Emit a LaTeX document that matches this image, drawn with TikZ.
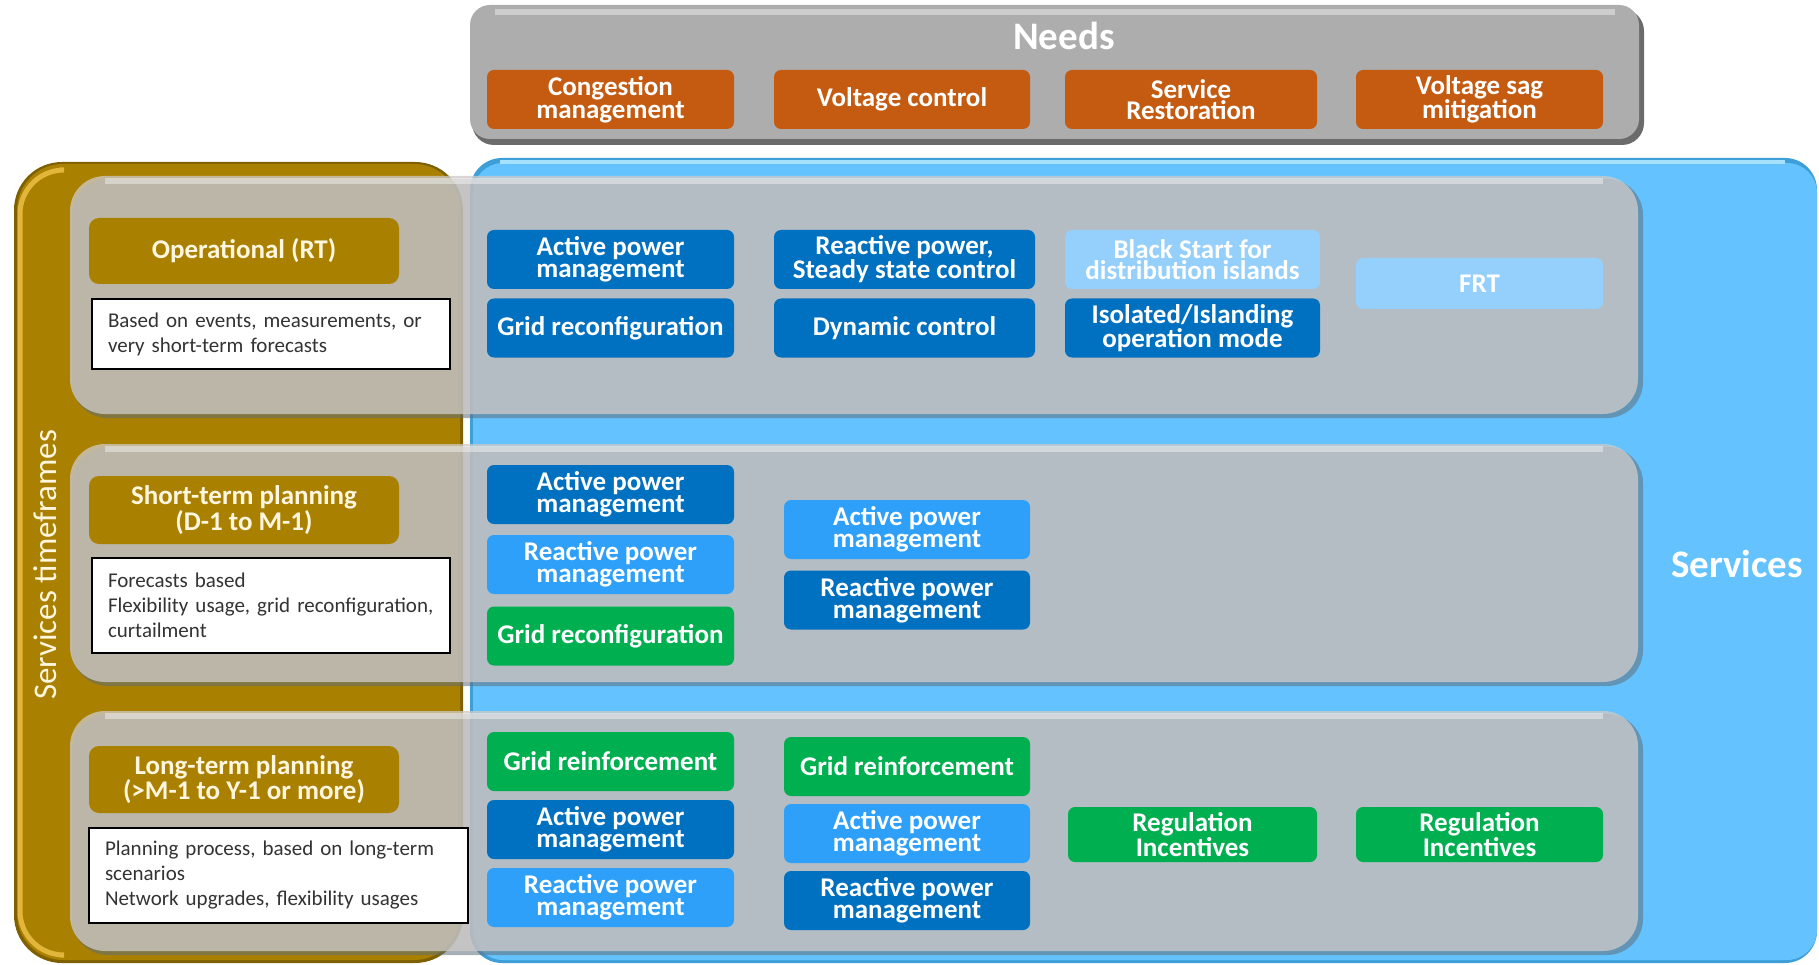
\documentclass[tikz,border=0pt]{standalone}
\usepackage{fontspec}
\setmainfont{Carlito}
\newfontfamily\plainfont{Carlito}
\definecolor{needgray}{HTML}{ADADAD}
\definecolor{needdark}{HTML}{6B6B6B}
\definecolor{orangeN}{HTML}{C55A11}
\definecolor{svcblue}{HTML}{64C3FF}
\definecolor{svcedge}{HTML}{3E9FD8}
\definecolor{svclight}{HTML}{A6E2FF}
\definecolor{goldT}{HTML}{AA8000}
\definecolor{goldD}{HTML}{7F6000}
\definecolor{goldL}{HTML}{E2B63A}
\definecolor{panelC}{RGB}{205,202,200}
\definecolor{panelD}{HTML}{5F6E7A}
\definecolor{darkB}{HTML}{0070C0}
\definecolor{medB}{HTML}{2EA0FA}
\definecolor{paleB}{HTML}{95CFFB}
\definecolor{greenS}{HTML}{00B050}
\definecolor{cream}{HTML}{FFF6E0}
\definecolor{desctext}{HTML}{333333}
\begin{document}
\begin{tikzpicture}[x=1pt,y=-1pt,
  svc/.style={rounded corners=7pt, inner sep=0pt, align=center, text=white,
    font=\bfseries\fontsize{27}{21}\selectfont, minimum height=59pt},
  dk/.style={svc, fill=darkB},
  md/.style={svc, fill=medB},
  pl/.style={svc, fill=paleB},
  gr/.style={svc, fill=greenS},
  nd/.style={svc, fill=orangeN},
  wa/.style={minimum width=247pt},
  wb/.style={minimum width=246pt},
  wc/.style={minimum width=255pt},
  gl/.style={rounded corners=10pt, fill=goldT, text=cream, inner sep=0pt, align=center,
    font=\bfseries\fontsize{27}{21}\selectfont, minimum width=310pt},
  desc/.style={draw=black, line width=2pt, fill=white, text=desctext, align=left,
    inner xsep=16pt, inner ysep=0pt, font=\fontsize{21}{25}\selectfont},
  panelshadow/.style={fill=panelD, fill opacity=0.55, rounded corners=36pt},
  panel/.style={fill=panelC, fill opacity=0.77, rounded corners=35pt},
  hilite/.style={draw=white, draw opacity=0.4, line width=6pt}
]
\useasboundingbox (0,0) rectangle (1819,965);

% Needs box
\fill[needdark, rounded corners=22pt] (472,9) rectangle (1644,145);
\fill[needgray, rounded corners=20pt] (470,5) rectangle (1639,139);
\draw[hilite] (495,12) -- (1615,12);

% Services box
\fill[svcedge, rounded corners=32pt] (470,158) rectangle (1817,963);
\fill[svcblue, rounded corners=30pt] (473,163) rectangle (1817,960);
\draw[svclight, line width=4pt] (500,162) -- (1785,162);

% Timeframes box
\fill[goldD, rounded corners=48pt] (14,162) rectangle (463,963);
\fill[goldT, rounded corners=46pt] (17,164) rectangle (460,960);
\draw[goldL, line width=5pt, rounded corners=44pt] (60,170) -- (20,170) -- (20,955) -- (60,955);

% Row panels
\foreach \ya/\yb in {176/414, 444/682, 711/951} {
  \fill[panelshadow] (72,\ya+3) rectangle (1643,\yb+4);
  \fill[panel] (70,\ya) rectangle (1638,\yb);
  \draw[hilite] (105,\ya+5) -- (1603,\ya+5);
}

% Titles
\node[text=white, font=\bfseries\fontsize{39}{42}\selectfont] (needs) at (1064,36) {Needs};
\node[text=white, font=\bfseries\fontsize{39}{42}\selectfont] (services) at (1737,564) {Services};
\node[rotate=90, text=cream, font=\plainfont\fontsize{33}{36}\selectfont] (stf) at (45,565) {Services timeframes};

% Needs items
\node[nd, wa] (n1) at (610.5,99.5) {Congestion\\management};
\node[nd, minimum width=256pt] (n2) at (902,99.5) {Voltage control};
\node[nd, minimum width=252pt] (n3) at (1191,99.5) {Service\\Restoration};
\node[nd, wa] (n4) at (1479.5,99.5) {Voltage sag\\mitigation};

% Timeframe labels
\node[gl, minimum height=66pt] (t1) at (244,251) {Operational (RT)};
\node[gl, minimum height=68pt] (t2) at (244,510) {Short-term planning\\(D-1 to M-1)};
\node[gl, minimum height=67pt] (t3) at (244,779.5) {Long-term planning\\(>M-1 to Y-1 or more)};

\node[desc, text width=326pt, minimum height=70pt] (d1) at (271,334)
  {\mbox{Based on events, measurements, or}\\\mbox{very short-term forecasts}};
\node[desc, text width=326pt, minimum height=95pt] (d2) at (271,605.5)
  {\mbox{Forecasts based}\\\mbox{Flexibility usage, grid reconfiguration,}\\\mbox{curtailment}};
\node[desc, text width=347pt, minimum height=95pt] (d3) at (278.5,875.5)
  {\mbox{Planning process, based on long-term}\\\mbox{scenarios}\\\mbox{Network upgrades, flexibility usages}};

% Row 1: operational
\node[dk, wa] (r1a) at (610.5,259.5) {Active power\\management};
\node[dk, wa] (r1b) at (610.5,328) {Grid reconfiguration};
\node[dk, minimum width=261pt] (r1c) at (904.5,259.5) {Reactive power,\\Steady state control};
\node[dk, minimum width=261pt] (r1d) at (904.5,328) {Dynamic control};
\node[pl, wc] (r1e) at (1192.5,259.5) {Black Start for\\distribution islands};
\node[dk, wc] (r1f) at (1192.5,328) {Isolated/Islanding\\operation mode};
\node[pl, wa, minimum height=51pt] (r1g) at (1479.5,283.5) {FRT};

% Row 2: short-term planning
\node[dk, wa] (r2a) at (610.5,494.5) {Active power\\management};
\node[md, wa] (r2b) at (610.5,564.5) {Reactive power\\management};
\node[gr, wa] (r2c) at (610.5,636) {Grid reconfiguration};
\node[md, wb] (r2d) at (907,529.5) {Active power\\management};
\node[dk, wb] (r2e) at (907,600) {Reactive power\\management};

% Row 3: long-term planning
\node[gr, wa] (r3a) at (610.5,761.5) {Grid reinforcement};
\node[dk, wa] (r3b) at (610.5,829.5) {Active power\\management};
\node[md, wa] (r3c) at (610.5,897.5) {Reactive power\\management};
\node[gr, wb] (r3d) at (907,766.5) {Grid reinforcement};
\node[md, wb] (r3e) at (907,833.5) {Active power\\management};
\node[dk, wb] (r3f) at (907,900.5) {Reactive power\\management};
\node[gr, minimum width=249pt, minimum height=55pt] (r3g) at (1192.5,834.5) {Regulation\\Incentives};
\node[gr, wa, minimum height=55pt] (r3h) at (1479.5,834.5) {Regulation\\Incentives};
\end{tikzpicture}
\end{document}
